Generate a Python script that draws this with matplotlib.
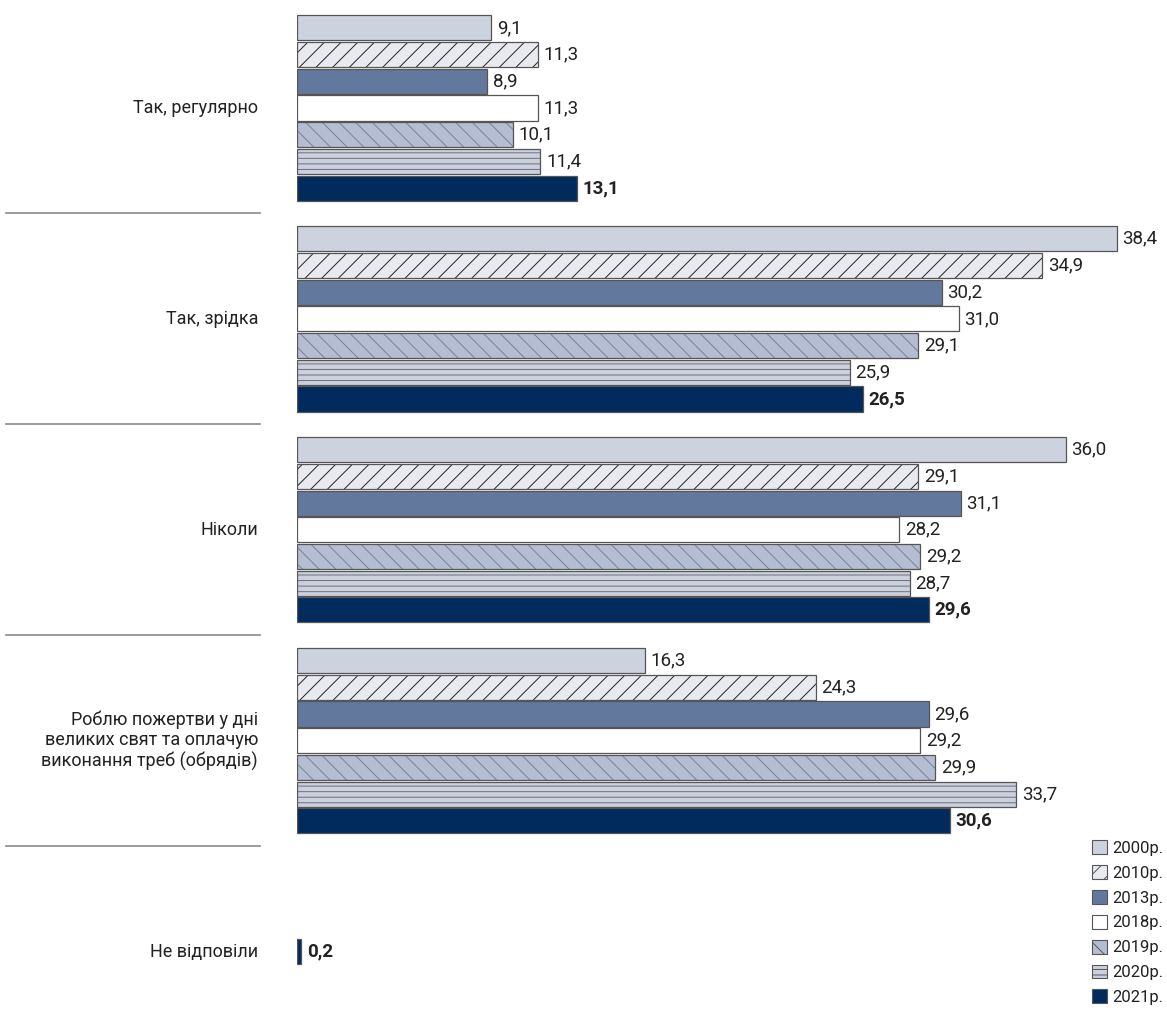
import matplotlib
matplotlib.use("Agg")
import matplotlib.pyplot as plt
from matplotlib.patches import Patch
from matplotlib.lines import Line2D
from matplotlib.transforms import blended_transform_factory

# data
categories = [
    "Так, регулярно",
    "Так, зрідка",
    "Ніколи",
    "Роблю пожертви у дні\nвеликих свят та оплачую\nвиконання треб (обрядів)",
    "Не відповіли",
]
years = ["2000р.", "2010р.", "2013р.", "2018р.", "2019р.", "2020р.", "2021р."]
values = [
    [9.1, 11.3, 8.9, 11.3, 10.1, 11.4, 13.1],
    [38.4, 34.9, 30.2, 31.0, 29.1, 25.9, 26.5],
    [36.0, 29.1, 31.1, 28.2, 29.2, 28.7, 29.6],
    [16.3, 24.3, 29.6, 29.2, 29.9, 33.7, 30.6],
]
no_answer_2021 = 0.2

# styles per year
faces = ["#CDD2DF", "#E9EAF0", "#62789C", "#FFFFFF", "#B4BDD1", "#CBD0DC", "#002B5C"]
hatches = [None, "//", None, None, "\\\\", "---", None]
hatch_cols = ["#555555", "#222222", "#555555", "#555555", "#7A8196", "#6A707C", "#555555"]
outline = "#555555"
text_col = "#222222"

plt.rcParams["font.family"] = ["Roboto", "DejaVu Sans"]
plt.rcParams["hatch.linewidth"] = 0.7

fig = plt.figure(figsize=(11.67, 10.16), dpi=100)
ax = fig.add_axes([297 / 1167, 0, 854 / 1167, 1])
ax.set_xlim(0, 40)
ax.set_ylim(34.01, -4.045)
ax.axis("off")

group_pitch = 7.9
bar_h = 0.94


def fmt(v):
    return f"{v:.1f}".replace(".", ",")


def draw_bar(y, v, i):
    ax.barh(y, v, height=bar_h, color=faces[i], hatch=hatches[i],
            edgecolor=hatch_cols[i], linewidth=0)
    ax.barh(y, v, height=bar_h, fill=False, edgecolor=outline, linewidth=0.9)
    bold = i == len(years) - 1
    ax.annotate(fmt(v), (v, y), xytext=(4, 0), textcoords="offset points",
                ha="left", va="center", fontsize=13.5, color=text_col,
                fontweight="bold" if bold else "normal")


for g, vals in enumerate(values):
    center = g * group_pitch
    for i, v in enumerate(vals):
        draw_bar(center + (i - 3), v, i)

# last category: only 2021
draw_bar(4 * group_pitch, no_answer_2021, len(years) - 1)

# category labels and separators
trans = blended_transform_factory(fig.transFigure, ax.transData)
for g, cat in enumerate(categories):
    ax.text(258 / 1167, g * group_pitch, cat, transform=trans, ha="right",
            va="center", fontsize=13, color=text_col, linespacing=1.2)
    if g < len(categories) - 1:
        ys = g * group_pitch + group_pitch / 2
        fig.add_artist(Line2D([6 / 1167, 260 / 1167], [ys, ys], transform=trans,
                              color="#8A8A8A", linewidth=1.2))

# legend
handles = [Patch(facecolor=faces[i], hatch=hatches[i], edgecolor=outline,
                 linewidth=0.8) for i in range(len(years))]
fig.legend(handles, years, loc="upper left",
           bbox_to_anchor=(1084 / 1167, 1 - 832 / 1016), frameon=False,
           fontsize=12, handlelength=0.9, handleheight=0.9,
           handletextpad=0.3, labelspacing=0.55, borderpad=0,
           labelcolor=text_col)

plt.savefig("out.png", dpi=100)
